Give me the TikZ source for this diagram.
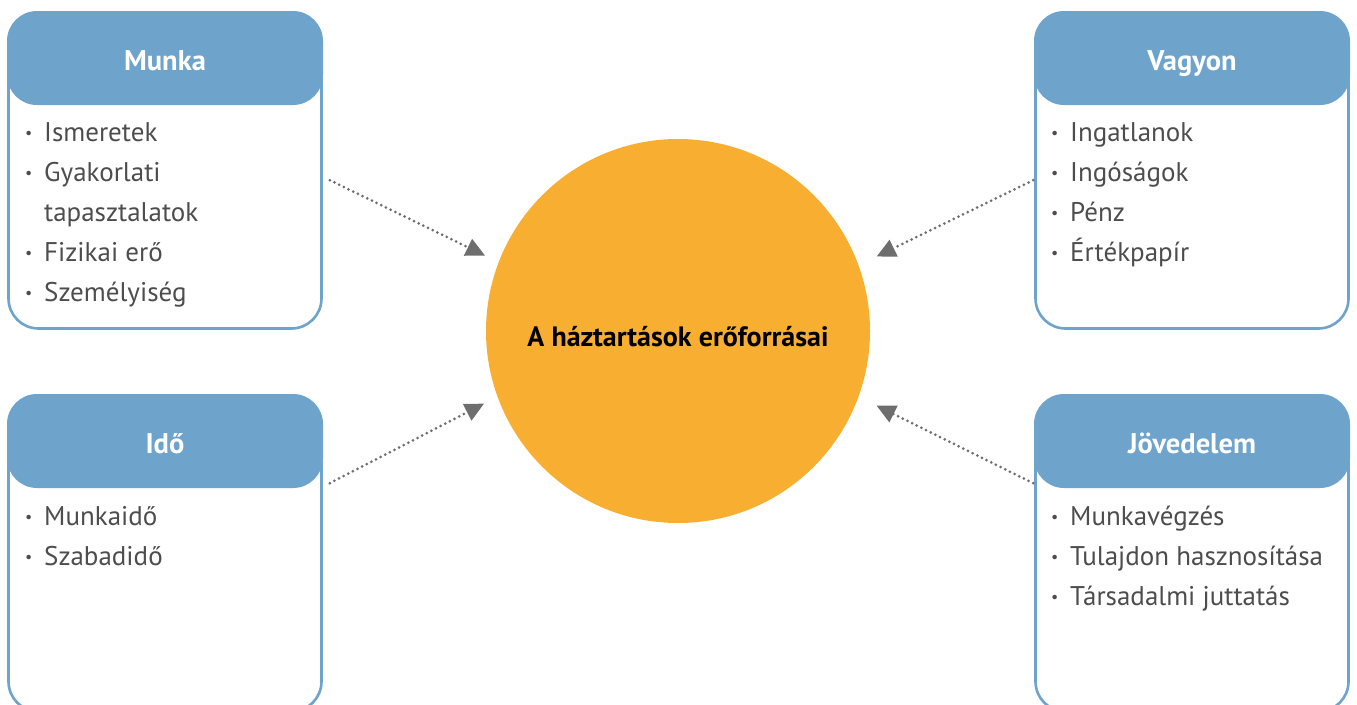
\documentclass[tikz,border=0pt]{standalone}
\usepackage{fontspec}
\setmainfont{PT Sans}
\usepackage{xcolor}
\definecolor{hdblue}{RGB}{110,163,203}
\definecolor{sunbg}{RGB}{248,174,48}
\definecolor{itemgray}{RGB}{77,77,77}
\definecolor{flowgray}{RGB}{110,110,110}
\usepackage{tikz}
\usetikzlibrary{positioning, arrows.meta, calc}
\newcommand{\itm}[1]{\makebox[19pt][l]{\raisebox{2.5pt}{\fontsize{16}{16}\selectfont\textbullet}}#1}
\newcommand{\cnt}[1]{\hspace*{19pt}#1}

\begin{document}
\begin{tikzpicture}[
  x=1pt, y=-1pt,
  panel/.style={draw=hdblue, line width=2.6pt, fill=white, rounded corners=30pt,
               minimum width=313pt, minimum height=315pt},
  hd/.style={fill=hdblue, rounded corners=30pt, minimum width=316pt, minimum height=94pt,
             anchor=north, text=white, font=\fontsize{28.5}{32}\selectfont\bfseries,
             text height=24pt, text depth=0pt},
  items/.style={anchor=base west, inner sep=0pt, text=itemgray,
               font=\fontsize{27}{40}\selectfont},
  sun/.style={circle, fill=sunbg, minimum size=384pt, inner sep=0pt,
              font=\fontsize{28}{32}\selectfont\bfseries, text height=30pt, text depth=0pt},
  flow/.style={draw=flowgray, line width=3pt, line cap=round, dash pattern=on 0pt off 5.2pt,
               -{Triangle[length=19pt, width=18pt, line cap=butt]}},
]
\useasboundingbox (0,0) rectangle (1357,704);

% Center
\node[sun] (res) at (678,331) {A háztartások erőforrásai};

% Panels
\node[panel] (munka) at (165,171) {};
\node[panel] (vagyon) at (1192,171) {};
\node[panel] (ido) at (165,554) {};
\node[panel] (jov) at (1192,554) {};

% Headers
\node[hd] (munkahd) at ([yshift=1.4pt]munka.north) {Munka};
\node[hd] (vagyonhd) at ([yshift=1.4pt]vagyon.north) {Vagyon};
\node[hd] (idohd) at ([yshift=1.4pt]ido.north) {Idő};
\node[hd] (jovhd) at ([yshift=1.4pt]jov.north) {Jövedelem};

% Lists
\node[items] (munkals) at (25,141) {\begin{tabular}[t]{@{}l@{}}
  \itm{Ismeretek}\\ \itm{Gyakorlati}\\ \cnt{tapasztalatok}\\
  \itm{Fizikai erő}\\ \itm{Személyiség}\end{tabular}};
\node[items] (vagyonls) at (1051,141) {\begin{tabular}[t]{@{}l@{}}
  \itm{Ingatlanok}\\ \itm{Ingóságok}\\ \itm{Pénz}\\ \itm{Értékpapír}\end{tabular}};
\node[items] (idols) at (25,525) {\begin{tabular}[t]{@{}l@{}}
  \itm{Munkaidő}\\ \itm{Szabadidő}\end{tabular}};
\node[items] (jovls) at (1051,525) {\begin{tabular}[t]{@{}l@{}}
  \itm{Munkavégzés}\\ \itm{Tulajdon hasznosítása}\\ \itm{Társadalmi juttatás}\end{tabular}};

% Arrows into the center
\draw[flow, shorten >=15pt] ($(munka.north east)+(7,168)$) -- (res.159.5);
\draw[flow, shorten >=15pt] ($(ido.north east)+(7,88)$) -- (res.200.5);
\draw[flow, shorten >=20pt] ($(vagyon.north west)+(-1,168)$) -- (res.20.5);
\draw[flow, shorten >=20pt] ($(jov.north west)+(-1,88)$) -- (res.-20.5);
\end{tikzpicture}
\end{document}
